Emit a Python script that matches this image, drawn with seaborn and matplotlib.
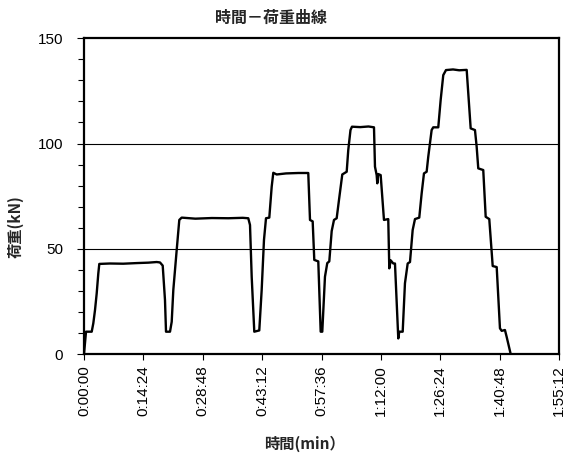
import matplotlib
matplotlib.use("Agg")
import matplotlib.pyplot as plt
from matplotlib.ticker import FixedLocator, MultipleLocator, FuncFormatter
import seaborn as sns
import pandas as pd

# elapsed time (minutes) and load (kN)
time_min = [0.00, 0.49, 1.87, 2.26, 2.67, 3.08, 3.47, 3.71, 6.3, 9.5, 12.8, 15.6, 17.63, 18.43,
            19.09, 19.64, 19.89, 20.86, 21.27, 21.66, 22.48, 23.11, 23.69, 27.0, 31.0, 35.0,
            38.5, 39.84, 40.26, 40.67, 41.30, 42.51, 43.09, 43.65, 44.14, 44.94, 45.52, 45.91,
            46.73, 49.0, 52.0, 54.39, 54.81, 55.46, 55.85, 56.82, 57.40, 57.79, 58.44, 59.00,
            59.49, 60.07, 60.63, 61.28, 61.84, 62.64, 63.71, 64.09, 64.63, 64.99, 67.0, 69.0,
            70.33, 70.57, 70.98, 71.13, 71.37, 71.95, 72.75, 73.79, 74.04, 74.38, 75.01, 75.42,
            76.22, 76.46, 77.29, 77.84, 78.50, 79.06, 79.71, 80.27, 81.31, 81.89, 82.45, 83.10,
            83.49, 84.31, 84.70, 85.92, 86.50, 87.13, 87.79, 89.5, 91.0, 92.81, 93.20, 93.78,
            94.82, 95.23, 95.62, 96.83, 97.42, 98.29, 99.12, 100.09, 100.88, 101.30, 102.09,
            102.50, 103.48]
load_kn = [0.0, 10.6, 10.6, 14.6, 20.9, 28.8, 38.3, 42.8, 43.0, 42.9, 43.2, 43.4, 43.7, 43.5,
           42.0, 25.7, 10.6, 10.6, 15.3, 30.4, 49.4, 63.7, 64.8, 64.3, 64.6, 64.5,
           64.7, 64.5, 61.3, 36.7, 10.6, 11.2, 30.4, 54.2, 64.5, 64.8, 79.5, 86.1,
           85.3, 85.8, 86.0, 86.0, 63.7, 63.0, 44.7, 44.0, 10.6, 10.6, 36.7, 43.2,
           44.0, 58.4, 63.7, 64.5, 73.2, 85.3, 86.6, 96.9, 106.4, 108.0, 107.8, 108.1,
           107.7, 89.0, 85.0, 81.1, 85.5, 85.0, 63.7, 64.1, 40.7, 44.5, 43.0, 43.0,
           7.4, 10.6, 10.6, 33.6, 43.0, 43.7, 58.9, 64.1, 64.8, 76.3, 85.8, 86.6,
           93.7, 106.4, 107.7, 107.7, 120.7, 132.5, 134.9, 135.2, 134.8, 135.0, 123.8, 107.2,
           106.4, 98.5, 88.2, 87.4, 65.2, 64.1, 41.8, 41.3, 12.2, 11.0, 11.4,
           8.2, 0.0]

x_ticks_min = [0, 14.4, 28.8, 43.2, 57.6, 72.0, 86.4, 100.8, 115.2]
y_ticks = [0, 50, 100, 150]

title = "時間－荷重曲線"
xlabel = "時間(min）"
ylabel = "荷重(kN)"

df = pd.DataFrame({"time": time_min, "load": load_kn})

sns.set_theme(style="white")
plt.rcParams["font.family"] = ["Liberation Sans", "DejaVu Sans"]
cjk = ["Noto Sans CJK JP", "DejaVu Sans"]

fig = plt.figure(figsize=(5.68, 4.55), dpi=100)
ax = fig.add_axes([84 / 568, 1 - 354 / 455, (559 - 84) / 568, (354 - 38.3) / 455])

for yv in [50, 100]:
    ax.axhline(yv, color="black", lw=0.8, zorder=1)

sns.lineplot(data=df, x="time", y="load", sort=False, color="black", lw=1.7, ax=ax, zorder=3)

ax.set_xlim(0, 115.2)
ax.set_ylim(0, 150)
ax.xaxis.set_major_locator(FixedLocator(x_ticks_min))


def fmt(v, pos):
    s = int(round(v * 60))
    return f"{s // 3600}:{(s % 3600) // 60:02d}:{s % 60:02d}"


ax.xaxis.set_major_formatter(FuncFormatter(fmt))
ax.yaxis.set_major_locator(FixedLocator(y_ticks))
ax.yaxis.set_minor_locator(MultipleLocator(10))

ax.tick_params(axis="x", which="major", direction="out", length=4, width=0.8, colors="black",
               labelsize=11, labelrotation=90, pad=4, bottom=True)
ax.tick_params(axis="y", which="major", direction="out", length=5, width=0.8, colors="black",
               labelsize=11, pad=10, left=True)
ax.tick_params(axis="y", which="minor", direction="out", length=4, width=0.8, colors="black", left=True)

for sp in ax.spines.values():
    sp.set_visible(True)
    sp.set_color("black")
    sp.set_linewidth(1.6)

ax.set_xlabel("")
ax.set_ylabel("")
ax.grid(False)

fig.text(271 / 568, 1 - 17.5 / 455, title, ha="center", va="center", fontsize=11.5,
         fontweight="bold", family=cjk)
fig.text(304 / 568, 1 - 444 / 455, xlabel, ha="center", va="center", fontsize=11,
         fontweight="bold", family=cjk)
fig.text(15 / 568, 1 - 227 / 455, ylabel, ha="center", va="center", fontsize=11,
         fontweight="bold", family=cjk, rotation=90)

fig.savefig("out.png", dpi=100, facecolor="white")
